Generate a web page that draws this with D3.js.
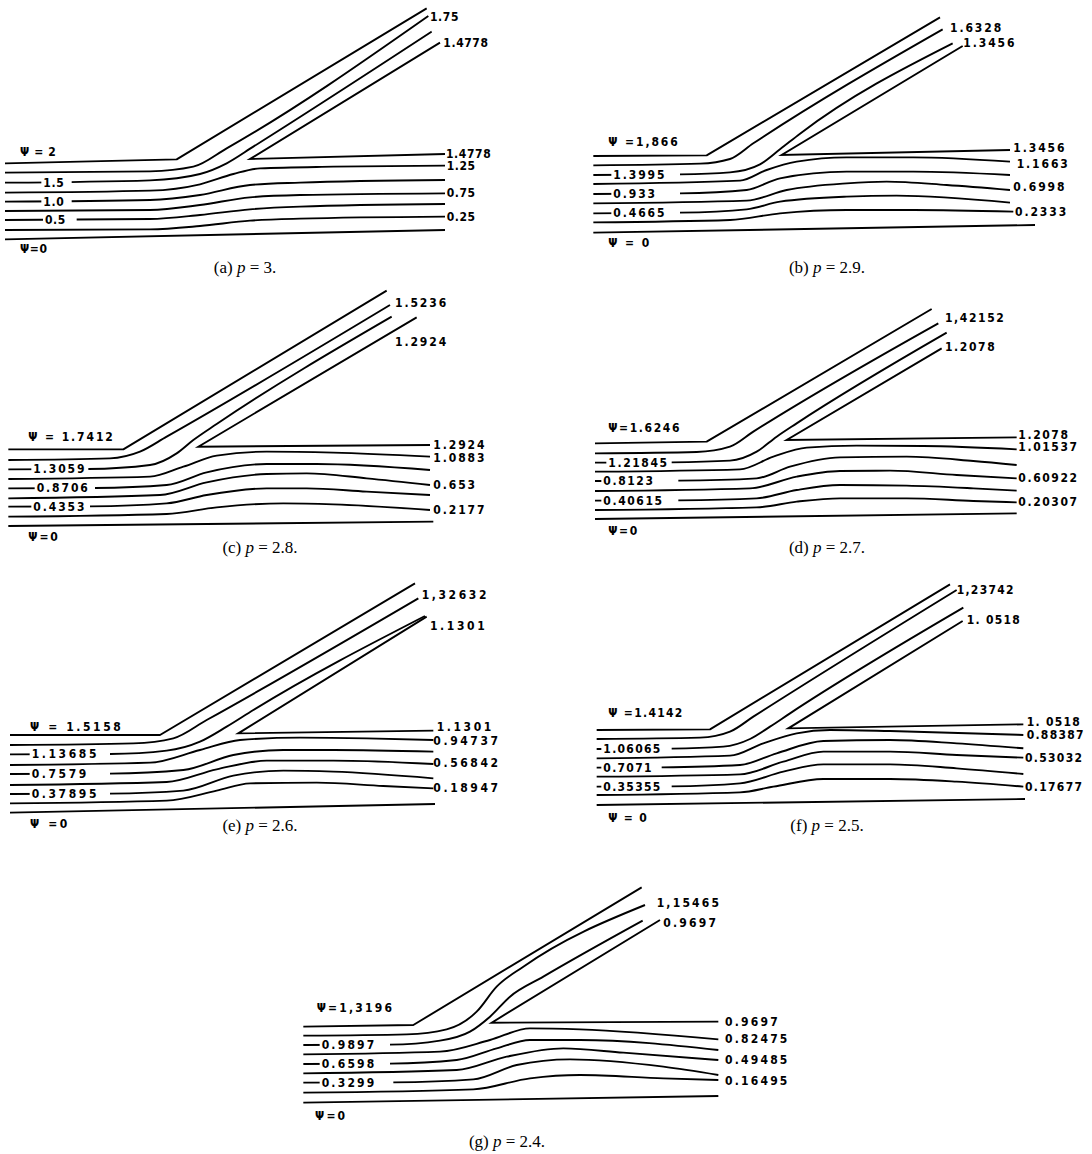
<!DOCTYPE html>
<html>
<head>
<meta charset="utf-8">
<script src="https://cdn.jsdelivr.net/npm/d3@7"></script>
<style>
  body { margin: 0; background: #fff; }
  .lbl { font-family: "DejaVu Sans Condensed", "DejaVu Sans", sans-serif; font-weight: bold; font-size: 12px; }
  .cap { font-family: "Liberation Serif", "DejaVu Serif", serif; font-size: 17px; }
</style>
</head>
<body>
<svg id="fig" width="1092" height="1154"></svg>
<script>
// streamlines, in grid units (3 per pixel), y pointing down
// each panel: psi = k/8 * psiMax for k = 0..8, plus the dividing wall
const pValues = [3, 2.9, 2.8, 2.7, 2.6, 2.5, 2.4];

const linesA = [
  [[15,718],[1335,690]],
  [[15,690],[450,688],[600,678],[750,662],[900,656],[1335,650]],
  [[15,660],[450,657],[600,645],[750,628],[900,620],[1335,612]],
  [[15,633],[450,630],[600,615],[750,592],[900,585],[1335,580]],
  [[15,605],[450,600],[600,585],[750,555],[900,548],[1335,540]],
  [[15,578],[450,572],[600,553],[700,522],[780,505],[1000,500],[1335,497]],
  [[15,548],[450,541],[600,522],[680,490],[760,440],[1295,95]],
  [[15,518],[450,514],[580,500],[680,445],[1285,48]],
  [[15,490],[530,478],[1280,25]]
];
const wallA = [[1335,462],[750,477],[1320,128]];
const labelsA = ["\u03a8 = 2","\u03a8=0","1.5","1.0","0.5","1.75","1.4778","1.4778","1.25","0.75","0.25"];

const linesB = [
  [[40,668],[1365,645]],
  [[40,637],[450,630],[600,610],[800,600],[1000,600],[1300,605]],
  [[40,610],[300,608],[500,598],[600,575],[800,560],[950,557],[1290,578]],
  [[40,580],[500,572],[620,540],[800,520],[920,515],[1100,525],[1290,540]],
  [[40,552],[300,550],[500,540],[600,505],[800,485],[1000,485],[1290,495]],
  [[40,522],[480,512],[560,480],[650,455],[800,442],[1000,442],[1290,455]],
  [[40,495],[300,493],[450,487],[540,463],[600,418],[660,371],[1118,100]],
  [[40,466],[360,461],[450,447],[520,400],[1088,58]],
  [[40,438],[380,436],[1080,22]]
];
const wallB = [[1290,420],[605,435],[1148,108]];
const labelsB = ["\u03a8 =1,866","\u03a8 = 0","1.3995","0.933","0.4665","1.6328","1.3456","1.3456","1.1663","0.6998","0.2333"];

const linesC = [
  [[25,708],[1300,695]],
  [[25,680],[500,672],[650,652],[850,640],[1000,643],[1290,660]],
  [[25,650],[270,649],[500,640],[620,615],[800,595],[920,595],[1100,605],[1290,615]],
  [[25,625],[480,615],[620,577],[800,552],[920,550],[1100,565],[1290,585]],
  [[25,595],[285,594],[500,585],[620,547],[800,522],[950,522],[1290,540]],
  [[25,567],[450,560],[550,530],[650,497],[800,485],[1000,488],[1290,500]],
  [[25,538],[265,537],[450,525],[530,490],[580,450],[650,402],[1175,80]],
  [[25,510],[330,505],[420,485],[500,440],[1170,45]],
  [[25,478],[370,478],[1160,2]]
];
const wallC = [[1290,465],[595,470],[1250,82]];
const labelsC = ["\u03a8 = 1.7412","\u03a8=0","1.3059","0.8706","0.4353","1.5236","1.2924","1.2924","1.0883","0.653","0.2177"];

const linesD = [
  [[15,657],[1280,640]],
  [[15,630],[500,622],[620,605],[750,595],[950,595],[1150,603],[1280,607]],
  [[15,602],[265,601],[500,595],[620,570],[750,555],[950,557],[1150,565],[1280,572]],
  [[15,573],[480,565],[620,530],[750,513],[900,512],[1100,525],[1280,535]],
  [[15,543],[265,542],[500,535],[600,500],[750,472],[950,470],[1150,483],[1280,495]],
  [[15,515],[450,508],[550,470],[650,443],[800,437],[1000,438],[1280,448]],
  [[15,488],[245,487],[420,482],[500,455],[560,410],[620,370],[1070,98]],
  [[15,460],[320,456],[420,440],[490,395],[1045,70]],
  [[15,430],[350,425],[1025,27]]
];
const wallD = [[1280,412],[590,420],[1055,145]];
const labelsD = ["\u03a8=1.6246","\u03a8=0","1.21845","0.8123","0.40615","1,42152","1.2078","1.2078","1.01537","0.60922","0.20307"];

const linesE = [
  [[30,728],[1305,702]],
  [[30,700],[500,692],[650,662],[750,640],[950,638],[1150,648],[1300,655]],
  [[30,672],[330,671],[550,662],[700,617],[850,602],[1000,605],[1300,625]],
  [[30,645],[500,636],[650,598],[800,572],[1000,572],[1300,582]],
  [[30,612],[330,611],[550,600],[700,555],[850,540],[1000,540],[1300,545]],
  [[30,585],[450,578],[600,540],[720,510],[900,503],[1100,505],[1300,510]],
  [[30,553],[330,552],[500,542],[600,515],[680,470],[760,420],[1275,138]],
  [[30,525],[400,520],[520,505],[620,450],[1255,85]],
  [[30,495],[480,495],[1245,40]]
];
const wallE = [[1300,482],[715,490],[1280,140]];
const labelsE = ["\u03a8 = 1.5158","\u03a8 =0","1.13685","0.7579","0.37895","1,32632","1.1301","1.1301","0.94737","0.56842","0.18947"];

const linesF = [
  [[20,690],[1305,672]],
  [[20,660],[450,652],[550,635],[700,612],[900,612],[1100,620],[1300,635]],
  [[20,635],[245,634],[450,625],[580,590],[700,568],[900,568],[1100,580],[1300,597]],
  [[20,605],[450,598],[580,560],[700,530],[900,530],[1100,540],[1300,548]],
  [[20,578],[215,577],[450,570],[560,535],[700,498],[900,495],[1100,505],[1300,520]],
  [[20,550],[420,542],[520,505],[620,475],[720,465],[900,468],[1300,480]],
  [[20,522],[245,521],[400,515],[480,492],[540,455],[600,415],[1120,98]],
  [[20,492],[330,488],[420,470],[490,425],[1100,45]],
  [[20,465],[360,463],[1080,28]]
];
const wallF = [[1300,448],[595,460],[1118,138]];
const labelsF = ["\u03a8 =1.4142","\u03a8 = 0","1.06065","0.7071","0.35355","1,23742","1. 0518","1. 0518","0.88387","0.53032","0.17677"];

const linesG = [
  [[40,818],[1285,798]],
  [[40,788],[550,778],[720,745],[870,735],[1120,745],[1285,750]],
  [[40,758],[310,757],[550,748],[680,705],[840,688],[1120,710],[1285,735]],
  [[40,730],[500,720],[650,680],[820,655],[1000,668],[1285,690]],
  [[40,702],[300,701],[500,690],[620,655],[720,630],[870,630],[1285,660]],
  [[40,673],[450,665],[600,630],[720,595],[870,598],[1285,628]],
  [[40,645],[300,644],[450,632],[540,605],[600,560],[660,500],[760,440],[1058,272]],
  [[40,617],[350,613],[470,598],[560,545],[620,470],[700,410],[1065,225]],
  [[40,590],[370,585],[1055,172]]
];
const wallG = [[1285,575],[605,578],[1110,270]];
const labelsG = ["\u03a8=1,3196","\u03a8=0","0.9897","0.6598","0.3299","1,15465","0.9697","0.9697","0.82475","0.49485","0.16495"];

// layout: where each panel sits on the page, where its labels go (grid units),
// and how widely the plotter spaced the digits
const layout = [
  { tag: "a", off: [0, 0], cap: [245, 273], ls: 0.6,
    spots: [[60,455],[60,748],[130,548,215],[130,605,215],[135,660,230],[1290,50],[1330,130],[1338,462],[1340,497],[1340,580],[1340,652]] },
  { tag: "b", off: [580, 10], cap: [827, 273], ls: 1.9,
    spots: [[85,395],[85,700],[100,495,300],[100,552,300],[100,610,300],[1110,55],[1150,100],[1300,415],[1310,462],[1300,532],[1305,605]] },
  { tag: "c", off: [0, 290], cap: [260, 553], ls: 1.9,
    spots: [[85,440],[85,740],[100,538,265],[110,595,285],[100,650,270],[1185,40],[1185,155],[1300,465],[1300,505],[1300,585],[1300,660]] },
  { tag: "d", off: [590, 300], cap: [827, 553], ls: 1.6,
    spots: [[55,385],[55,692],[55,488,245],[40,543,265],[40,602,265],[1065,55],[1065,140],[1285,405],[1285,440],[1285,535],[1285,605]] },
  { tag: "e", off: [0, 570], cap: [260, 831], ls: 2.6,
    spots: [[90,470],[90,762],[95,553,330],[95,612,330],[95,672,330],[1265,75],[1290,168],[1310,470],[1300,512],[1300,580],[1300,655]] },
  { tag: "f", off: [590, 575], cap: [827, 831], ls: 1.3,
    spots: [[55,415],[55,728],[40,522,245],[40,578,215],[40,635,245],[1100,45],[1130,135],[1310,440],[1310,480],[1305,550],[1305,635]] },
  { tag: "g", off: [290, 830], cap: [507, 1147], ls: 2.2,
    spots: [[80,535],[75,858],[95,645,300],[95,702,300],[95,758,310],[1100,218],[1120,278],[1305,575],[1305,628],[1305,690],[1305,752]] }
];

const panelLines = [linesA, linesB, linesC, linesD, linesE, linesF, linesG];
const panelWalls = [wallA, wallB, wallC, wallD, wallE, wallF, wallG];
const panelLabels = [labelsA, labelsB, labelsC, labelsD, labelsE, labelsF, labelsG];

const svg = d3.select("#fig");

layout.forEach((lay, i) => {
  const x = d3.scaleLinear().domain([0, 1500]).range([lay.off[0], lay.off[0] + 500]);
  const y = d3.scaleLinear().domain([0, 810]).range([lay.off[1], lay.off[1] + 270]);

  const smooth = d3.line().x(d => x(d[0])).y(d => y(d[1])).curve(d3.curveMonotoneX);
  const straight = d3.line().x(d => x(d[0])).y(d => y(d[1]));

  const g = svg.append("g").attr("class", "panel-" + lay.tag);

  const lines = panelLines[i];
  g.append("g")
    .attr("fill", "none")
    .attr("stroke", "#000")
    .attr("stroke-width", 1.9)
    .attr("stroke-linejoin", "round")
    .selectAll("path")
    .data(lines)
    .enter()
    .append("path")
    .attr("d", (d, k) => (k === 8 ? straight(d) : smooth(d)));

  // dividing streamline: comes back from the right, turns at the tip, goes up the branch
  g.append("path")
    .attr("fill", "none")
    .attr("stroke", "#000")
    .attr("stroke-width", 1.9)
    .attr("d", straight(panelWalls[i]));

  const labels = panelLabels[i];

  // blank the line where a label sits on it
  lay.spots.forEach(s => {
    if (s.length === 3) {
      g.append("rect")
        .attr("x", x(s[0] - 6))
        .attr("y", y(s[1]) - 3)
        .attr("width", x(s[2]) - x(s[0] - 6))
        .attr("height", 6)
        .attr("fill", "#fff");
    }
  });

  g.selectAll("text.lbl")
    .data(labels)
    .enter()
    .append("text")
    .attr("class", "lbl")
    .attr("letter-spacing", lay.ls + "px")
    .attr("x", (d, j) => x(lay.spots[j][0]))
    .attr("y", (d, j) => y(lay.spots[j][1]))
    .attr("dominant-baseline", "central")
    .text(d => d);

  const cap = svg.append("text")
    .attr("class", "cap")
    .attr("x", lay.cap[0])
    .attr("y", lay.cap[1])
    .attr("text-anchor", "middle");
  cap.append("tspan").text("(" + lay.tag + ") ");
  cap.append("tspan").attr("font-style", "italic").text("p");
  cap.append("tspan").text(" = " + pValues[i] + ".");
});
</script>
</body>
</html>
